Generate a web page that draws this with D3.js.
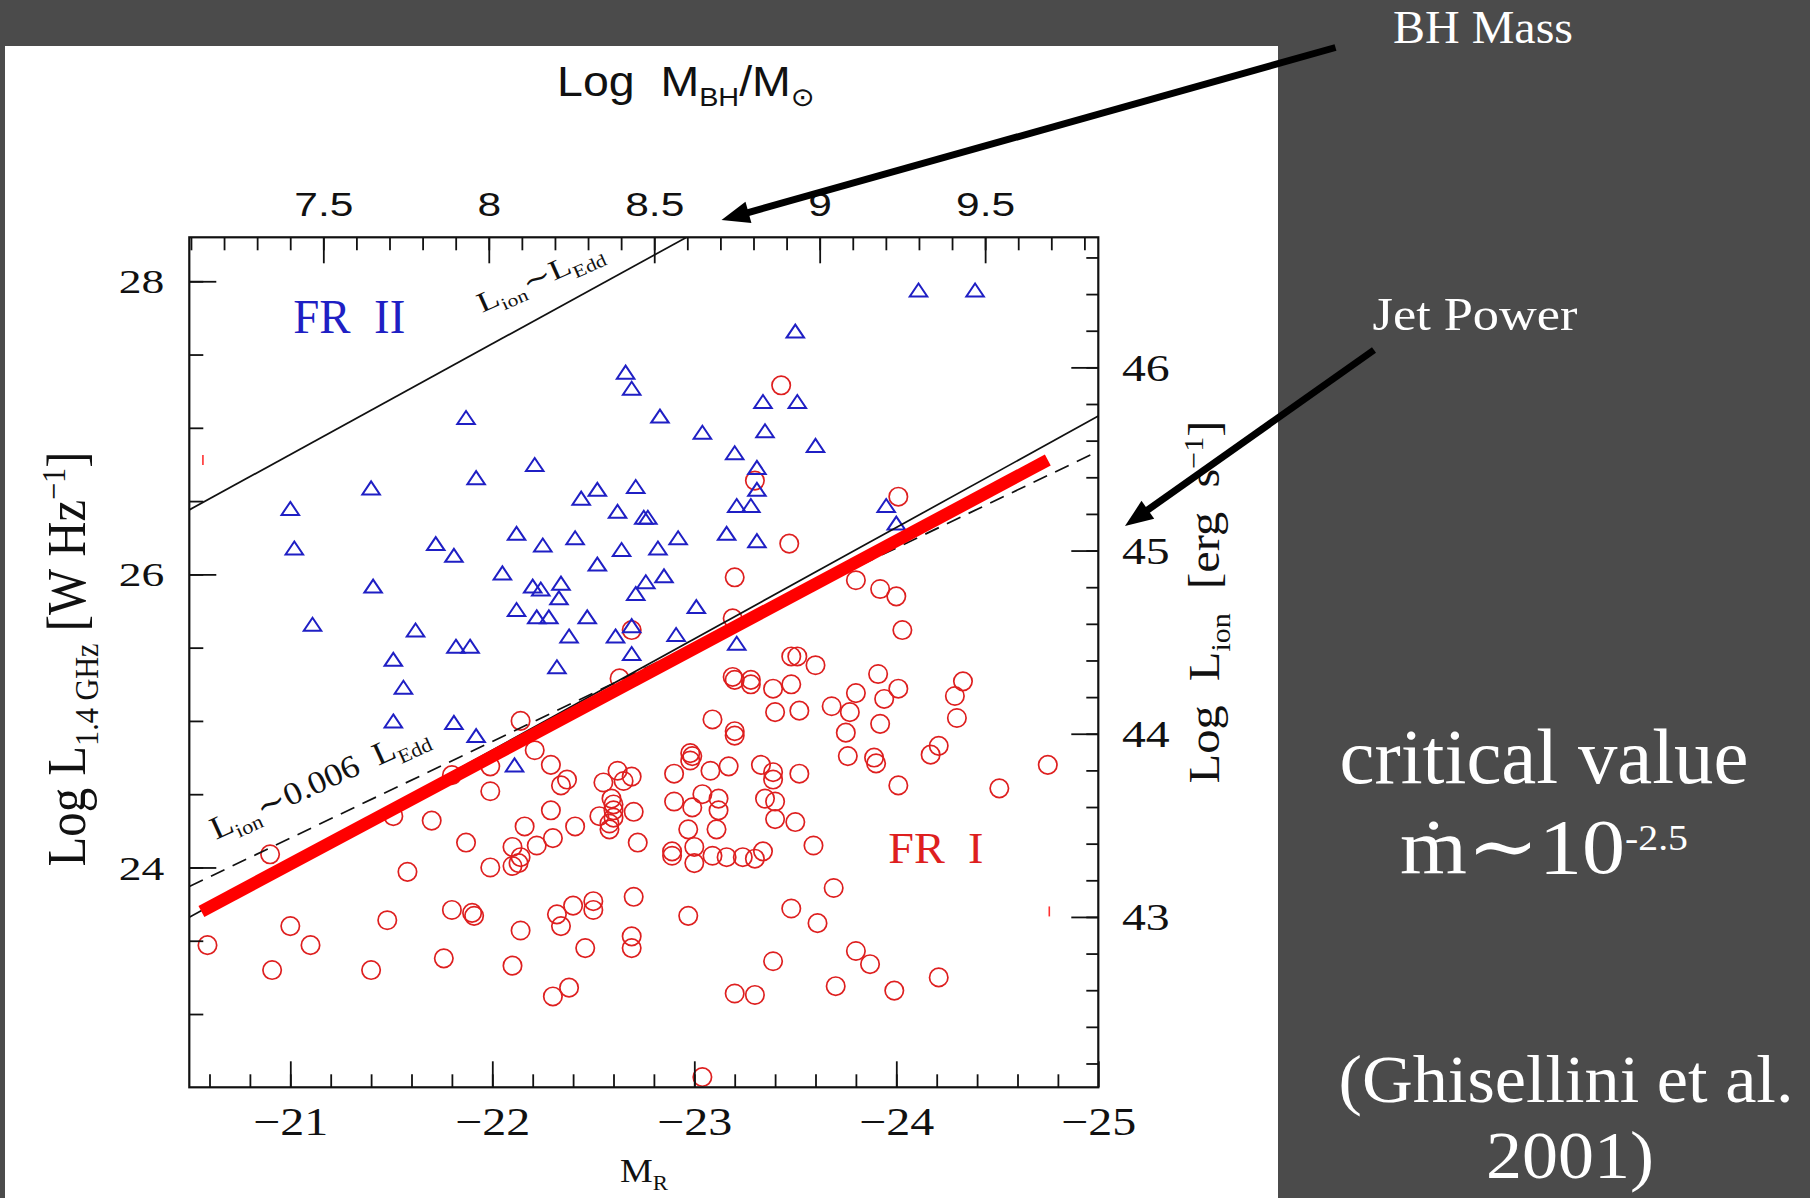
<!DOCTYPE html>
<html><head><meta charset="utf-8">
<script src="https://cdn.jsdelivr.net/npm/d3@7"></script>
<style>
html,body{margin:0;padding:0;background:#4b4b4b;}
svg{display:block;}
</style></head>
<body>
<svg id="c" width="1810" height="1198"></svg>
<script>
// ---------------- data ----------------
const bottomTicks = [-21, -22, -23, -24, -25];
const topTicks = [7.5, 8, 8.5, 9, 9.5];
const leftTicks = [24, 26, 28];
const rightTicks = [43, 44, 45, 46];

// FR II (blue triangles): absolute magnitude M_R and Log L_1.4GHz
const fr2MR = [-24.11,-24.39,-23.50,-22.66,-22.69,-21.87,-22.83,-23.34,-23.51,-23.04,
  -23.35,-23.60,-23.20,-23.31,-23.31,-22.21,-21.92,-21.40,-22.71,-21.00,
  -22.44,-22.52,-22.62,-22.75,-22.77,-23.21,-23.28,-23.95,-24.00,-21.02,
  -22.12,-21.72,-21.81,-22.25,-22.41,-22.64,-22.82,-22.92,-23.16,-23.31,
  -22.52,-22.05,-21.41,-22.20,-22.24,-22.34,-22.33,-22.76,-22.85,-22.71,
  -23.01,-22.12,-22.22,-22.28,-22.47,-21.11,-21.62,-22.38,-22.61,-22.69,
  -22.91,-23.21,-21.82,-21.89,-21.51,-22.69,-22.32,-21.56,-21.51,-21.81,
  -21.92,-22.11];
const fr2L = [27.94,27.94,27.66,27.38,27.27,27.07,27.08,27.18,27.18,26.97,
  26.98,26.88,26.83,26.73,26.58,26.75,26.66,26.59,26.60,26.45,
  26.52,26.58,26.43,26.39,26.39,26.47,26.47,26.47,26.35,26.18,
  26.28,26.21,26.13,26.20,26.25,26.17,26.18,26.25,26.28,26.23,
  26.07,26.01,25.92,25.92,25.90,25.94,25.84,25.95,25.99,25.87,
  25.78,25.76,25.71,25.71,25.71,25.66,25.62,25.58,25.58,25.65,
  25.59,25.53,25.51,25.51,25.42,25.46,25.37,25.23,25.00,24.99,
  24.90,24.70];

// FR I (red circles)
const fr1MR = [-23.43,-23.30,-24.01,-23.47,-23.20,-23.80,-23.92,-24.00,-24.03,-22.69,
  -23.19,-23.48,-23.51,-23.60,-23.91,-24.33,-22.63,-23.19,-23.20,-23.28,
  -23.28,-23.39,-23.48,-23.68,-23.80,-24.01,-23.94,-23.77,-24.29,-23.40,
  -23.52,-24.30,-23.92,-23.09,-23.20,-23.20,-23.75,-23.76,-23.89,-23.90,
  -24.17,-24.21,-24.01,-24.51,-24.75,-22.98,-22.99,-22.98,-23.08,-23.17,
  -23.33,-23.39,-23.39,-23.52,-22.99,-23.04,-23.12,-23.12,-23.35,-23.40,
  -23.40,-23.50,-22.97,-23.11,-23.59,-23.00,-23.00,-23.09,-23.16,-23.24,
  -23.30,-23.34,-22.55,-22.62,-22.65,-22.69,-22.59,-22.60,-22.60,-22.60,
  -22.58,-22.58,-22.53,-22.70,-22.72,-22.90,-22.90,-22.89,-22.89,-22.70,
  -22.97,-23.69,-23.48,-23.61,-22.69,-22.69,-23.39,-23.80,-23.87,-24.21,
  -23.70,-23.99,-23.20,-23.30,-23.04,-22.14,-22.21,-22.29,-22.37,-22.34,
  -21.99,-21.80,-21.99,-22.29,-22.16,-22.41,-21.51,-21.70,-21.87,-22.10,
  -22.22,-22.30,-22.14,-22.13,-22.10,-21.99,-21.58,-20.90,-21.80,-21.90,
  -21.91,-21.48,-21.00,-20.59,-21.10,-20.91,-21.40,-21.76,-22.10,-22.14,
  -22.32,-22.34,-22.40,-22.50,-22.50,-22.46,-22.30,-22.38];
const fr1L = [27.29,26.64,26.53,26.21,25.98,25.96,25.90,25.85,25.62,25.62,
  25.70,25.44,25.44,25.38,25.32,25.27,25.29,25.30,25.28,25.28,
  25.25,25.22,25.25,25.10,25.19,25.22,25.15,25.06,25.17,25.06,
  25.07,25.02,24.98,25.01,24.93,24.90,24.92,24.76,24.75,24.71,
  24.77,24.83,24.56,24.54,24.70,24.78,24.76,24.73,24.66,24.69,
  24.70,24.65,24.60,24.64,24.41,24.50,24.47,24.39,24.47,24.45,
  24.33,24.31,24.26,24.26,24.15,24.14,24.03,24.08,24.07,24.07,
  24.06,24.11,24.58,24.66,24.59,24.62,24.47,24.43,24.39,24.34,
  24.30,24.26,24.35,24.38,24.17,24.64,24.45,24.11,24.08,23.80,
  23.67,23.86,23.72,23.62,23.53,23.45,23.36,23.43,23.34,23.25,
  23.19,23.16,23.14,23.13,22.57,25.00,24.80,24.70,24.60,24.56,
  24.69,24.63,24.52,24.39,24.28,24.28,24.35,24.32,24.17,24.14,
  24.15,24.20,24.07,24.03,24.01,24.00,23.97,24.09,23.71,23.69,
  23.67,23.64,23.60,23.47,23.47,23.30,23.30,23.38,23.33,23.57,
  23.68,23.60,23.74,23.77,23.71,23.45,23.12,23.18];

// reference lines (M_R, Log L_1.4GHz)
const eddMR = [-20.5, -25];   const eddL = [26.44, 29.84];   // L_ion ~ L_Edd
const lowMR = [-20.5, -25];   const lowL = [23.66, 27.08];   // thin solid
const dashMR = [-20.5, -25];  const dashL = [23.87, 26.84];  // L_ion ~ 0.006 L_Edd
const redMR = [-20.56, -24.75]; const redL = [23.70, 26.78]; // critical value

// ---------------- layout ----------------
const W = 1810, H = 1198;
const P = {l: 189.3, r: 1098.3, t: 237.3, b: 1087.3};
const SERIF = "'Liberation Serif','DejaVu Serif',serif";
const SANS = "'Liberation Sans','DejaVu Sans',sans-serif";
const INK = "#111";
const BLUE = "#1f1fc4";
const RED = "#de1f1f";

const svg = d3.select("#c");
svg.append("rect").attr("width", W).attr("height", H).attr("fill", "#4b4b4b");
svg.append("rect").attr("x", 5).attr("y", 46).attr("width", 1273).attr("height", H - 46).attr("fill", "#fff");

const x = d3.scaleLinear().domain([-20.5, -25]).range([P.l, P.r]);
const y = d3.scaleLinear().domain([22.5, 28.3]).range([P.b, P.t]);
const xTop = d3.scaleLinear().domain([7.095, 9.842]).range([P.l, P.r]);
const yRight = d3.scaleLinear().domain([42.07, 46.71]).range([P.b, P.t]);

svg.append("defs").append("clipPath").attr("id", "clip")
  .append("rect").attr("x", P.l).attr("y", P.t).attr("width", P.r - P.l).attr("height", P.b - P.t);

// helper for rich text
function rich(sel, parts, fs) {
  let off = 0;
  parts.forEach(([t, k]) => {
    const target = k === "sub" ? fs * 0.24 : (k === "sup" ? -fs * 0.36 : 0);
    const ts = sel.append("tspan").text(t).attr("dy", target - off);
    if (k === "sub" || k === "sup") ts.attr("font-size", fs * 0.62);
    off = target;
  });
  return sel;
}
function fit(sel, target) {
  const w = sel.node().getComputedTextLength();
  sel.attr("transform", `scale(${target / w},1)`);
  return sel;
}

// ---------------- markers ----------------
svg.append("g").selectAll("circle").data(d3.zip(fr1MR, fr1L)).join("circle")
  .attr("cx", d => x(d[0])).attr("cy", d => y(d[1])).attr("r", 9.2)
  .attr("fill", "none").attr("stroke", RED).attr("stroke-width", 1.7);

const tw = 17.5, th = 13;
svg.append("g").selectAll("path").data(d3.zip(fr2MR, fr2L)).join("path")
  .attr("transform", d => `translate(${x(d[0])},${y(d[1])})`)
  .attr("d", `M0,${-th / 2}L${tw / 2},${th / 2}L${-tw / 2},${th / 2}Z`)
  .attr("fill", "none").attr("stroke", BLUE).attr("stroke-width", 2).attr("stroke-linejoin", "miter");

// ---------------- lines ----------------
const line = d3.line().x(d => x(d[0])).y(d => y(d[1]));
const lg = svg.append("g").attr("clip-path", "url(#clip)");
lg.append("path").attr("d", line(d3.zip(eddMR, eddL))).attr("stroke", INK).attr("stroke-width", 1.7).attr("fill", "none");
lg.append("path").attr("d", line(d3.zip(lowMR, lowL))).attr("stroke", INK).attr("stroke-width", 1.7).attr("fill", "none");
lg.append("path").attr("d", line(d3.zip(dashMR, dashL))).attr("stroke", INK).attr("stroke-width", 1.7)
  .attr("fill", "none").attr("stroke-dasharray", "15,9");

// ---------------- axes ----------------
function axis(gen, tr) {
  const g = svg.append("g").attr("transform", tr).call(gen);
  g.select(".domain").remove();
  g.selectAll(".tick line").attr("stroke", INK).attr("stroke-width", 1.8);
  g.attr("font-family", null).attr("font-size", null);
  return g;
}
const bottomMinor = d3.range(103, 125).map(i => -i / 5);
const topMinor = d3.range(71, 99).map(i => i / 10);
const leftMinor = d3.range(46, 57).map(i => i / 2);
const rightMinor = d3.range(211, 234).map(i => i / 5);

axis(d3.axisBottom(x).tickValues(bottomMinor).tickSize(-13).tickFormat(""), `translate(0,${P.b})`);
axis(d3.axisTop(xTop).tickValues(topMinor).tickSize(-13).tickFormat(""), `translate(0,${P.t})`);
axis(d3.axisLeft(y).tickValues(leftMinor).tickSize(-14).tickFormat(""), `translate(${P.l},0)`);
axis(d3.axisRight(yRight).tickValues(rightMinor).tickSize(-12).tickFormat(""), `translate(${P.r},0)`);

const gB = axis(d3.axisBottom(x).tickValues(bottomTicks).tickSize(-26).tickFormat(d3.format("d")), `translate(0,${P.b})`);
gB.selectAll(".tick text").attr("y", 0).attr("dy", 0).attr("fill", INK)
  .attr("font-family", SERIF).attr("font-size", 40).attr("text-anchor", "middle")
  .attr("transform", "translate(0,47.7) scale(1.2,1)");

const gT = axis(d3.axisTop(xTop).tickValues(topTicks).tickSize(-26).tickFormat(d => String(d)), `translate(0,${P.t})`);
gT.selectAll(".tick text").attr("y", 0).attr("dy", 0).attr("fill", INK)
  .attr("font-family", SANS).attr("font-size", 34).attr("text-anchor", "middle")
  .attr("transform", "translate(0,-21.3) scale(1.25,1)");

const gL = axis(d3.axisLeft(y).tickValues(leftTicks).tickSize(-27).tickFormat(d3.format("d")), `translate(${P.l},0)`);
gL.selectAll(".tick text").attr("x", 0).attr("dy", "0.34em").attr("fill", INK)
  .attr("font-family", SERIF).attr("font-size", 34).attr("text-anchor", "end")
  .attr("transform", "translate(-25,0) scale(1.34,1)");

const gR = axis(d3.axisRight(yRight).tickValues(rightTicks).tickSize(-27).tickFormat(d3.format("d")), `translate(${P.r},0)`);
gR.selectAll(".tick text").attr("x", 0).attr("dy", "0.35em").attr("fill", INK)
  .attr("font-family", SERIF).attr("font-size", 37).attr("text-anchor", "start")
  .attr("transform", "translate(23.7,0) scale(1.29,1)");

// frame
svg.append("rect").attr("x", P.l).attr("y", P.t).attr("width", P.r - P.l).attr("height", P.b - P.t)
  .attr("fill", "none").attr("stroke", INK).attr("stroke-width", 2.2);

// ---------------- axis titles ----------------
{
  const g = svg.append("g").attr("transform", "translate(686,96)");
  const t = g.append("text").attr("font-family", SANS).attr("font-size", 42).attr("fill", INK).attr("text-anchor", "middle");
  rich(t, [["Log\u00a0\u00a0M", "n"], ["BH", "sub"], ["/M", "n"], ["\u2299", "sub"]], 42);
  fit(t, 258);
}
{
  const g = svg.append("g").attr("transform", "translate(644,1182)");
  const t = g.append("text").attr("font-family", SERIF).attr("font-size", 34).attr("fill", INK).attr("text-anchor", "middle");
  rich(t, [["M", "n"], ["R", "sub"]], 34);
  fit(t, 48);
}
{
  const g = svg.append("g").attr("transform", "translate(85,659) rotate(-90)");
  const t = g.append("text").attr("font-family", SERIF).attr("font-size", 55).attr("fill", INK).attr("text-anchor", "middle");
  rich(t, [["Log\u00a0L", "n"], ["1.4\u00a0GHz", "sub"], ["\u00a0[W\u00a0Hz", "n"], ["\u22121", "sup"], ["]", "n"]], 55);
  fit(t, 415);
}
{
  const g = svg.append("g").attr("transform", "translate(1219,602) rotate(-90)");
  const t = g.append("text").attr("font-family", SERIF).attr("font-size", 45).attr("fill", INK).attr("text-anchor", "middle");
  rich(t, [["Log\u00a0\u00a0L", "n"], ["ion", "sub"], ["\u00a0\u00a0[erg\u00a0\u00a0s", "n"], ["\u22121", "sup"], ["]", "n"]], 45);
  fit(t, 363);
}

// ---------------- in-plot labels ----------------
{
  const g = svg.append("g").attr("transform", "translate(293.3,333.3)");
  const t = g.append("text").attr("font-family", SERIF).attr("font-size", 48).attr("fill", BLUE).text("FR\u00a0\u00a0II");
  fit(t, 112);
}
{
  const g = svg.append("g").attr("transform", "translate(888.3,863.3)");
  const t = g.append("text").attr("font-family", SERIF).attr("font-size", 45).attr("fill", RED).text("FR\u00a0\u00a0I");
  fit(t, 95);
}
{
  const g = svg.append("g").attr("transform", "translate(482,313) rotate(-24)");
  const t = g.append("text").attr("font-family", SERIF).attr("font-size", 28).attr("fill", INK);
  rich(t, [["L", "n"], ["ion", "sub"], ["\u223cL", "n"], ["Edd", "sub"]], 28);
  fit(t, 135);
}
{
  const g = svg.append("g").attr("transform", "translate(216,840) rotate(-24.5)");
  const t = g.append("text").attr("font-family", SERIF).attr("font-size", 32).attr("fill", INK);
  rich(t, [["L", "n"], ["ion", "sub"], ["\u223c0.006\u00a0\u00a0L", "n"], ["Edd", "sub"]], 32);
  fit(t, 236);
}

// ---------------- critical line (overlay) ----------------
svg.append("path").attr("d", line(d3.zip(redMR, redL))).attr("stroke", "#ff0000")
  .attr("stroke-width", 12.5).attr("fill", "none").attr("stroke-linecap", "butt");
// small red marks (scan artefacts) at the swapped ends of the red line
svg.append("g").selectAll("line").data([[redMR[0], redL[1]], [redMR[1], redL[0]]]).join("line")
  .attr("x1", d => x(d[0]) + 1.5).attr("x2", d => x(d[0]) + 1.5)
  .attr("y1", d => y(d[1]) - 5).attr("y2", d => y(d[1]) + 5)
  .attr("stroke", "#ff3030").attr("stroke-width", 1.6);

// ---------------- slide annotations ----------------
function arrow(x1, y1, x2, y2) {
  const a = Math.atan2(y2 - y1, x2 - x1), L = 28, hw = 11;
  const bx = x2 - Math.cos(a) * L, by = y2 - Math.sin(a) * L;
  svg.append("line").attr("x1", x1).attr("y1", y1).attr("x2", bx + Math.cos(a) * 4).attr("y2", by + Math.sin(a) * 4)
    .attr("stroke", "#000").attr("stroke-width", 7);
  const px = -Math.sin(a) * hw, py = Math.cos(a) * hw;
  svg.append("path").attr("d", `M${x2},${y2}L${bx + px},${by + py}L${bx - px},${by - py}Z`).attr("fill", "#000");
}
arrow(1335.5, 47.5, 721.5, 220);
arrow(1374, 350, 1125, 526);

function note(str, cx, base, fs, w) {
  const g = svg.append("g").attr("transform", `translate(${cx},${base})`);
  const t = g.append("text").attr("font-family", SERIF).attr("font-size", fs).attr("fill", "#fff")
    .attr("text-anchor", "middle").text(str);
  if (w) fit(t, w);
  return t;
}
note("BH Mass", 1483, 43, 47, 180);
note("Jet Power", 1475, 330, 47, 205);
note("critical value", 1544, 783, 78, 409);
{
  const g = svg.append("g").attr("transform", "translate(1544,873)");
  const t = g.append("text").attr("font-family", SERIF).attr("font-size", 78).attr("fill", "#fff").attr("text-anchor", "middle");
  t.append("tspan").text("\u1e41\u223c10");
  t.append("tspan").text("-2.5").attr("font-size", 36).attr("dy", -23);
  fit(t, 288);
}
note("(Ghisellini et al.", 1566, 1102, 68, 455);
note("2001)", 1570, 1178, 68, 168);
</script>
</body></html>
